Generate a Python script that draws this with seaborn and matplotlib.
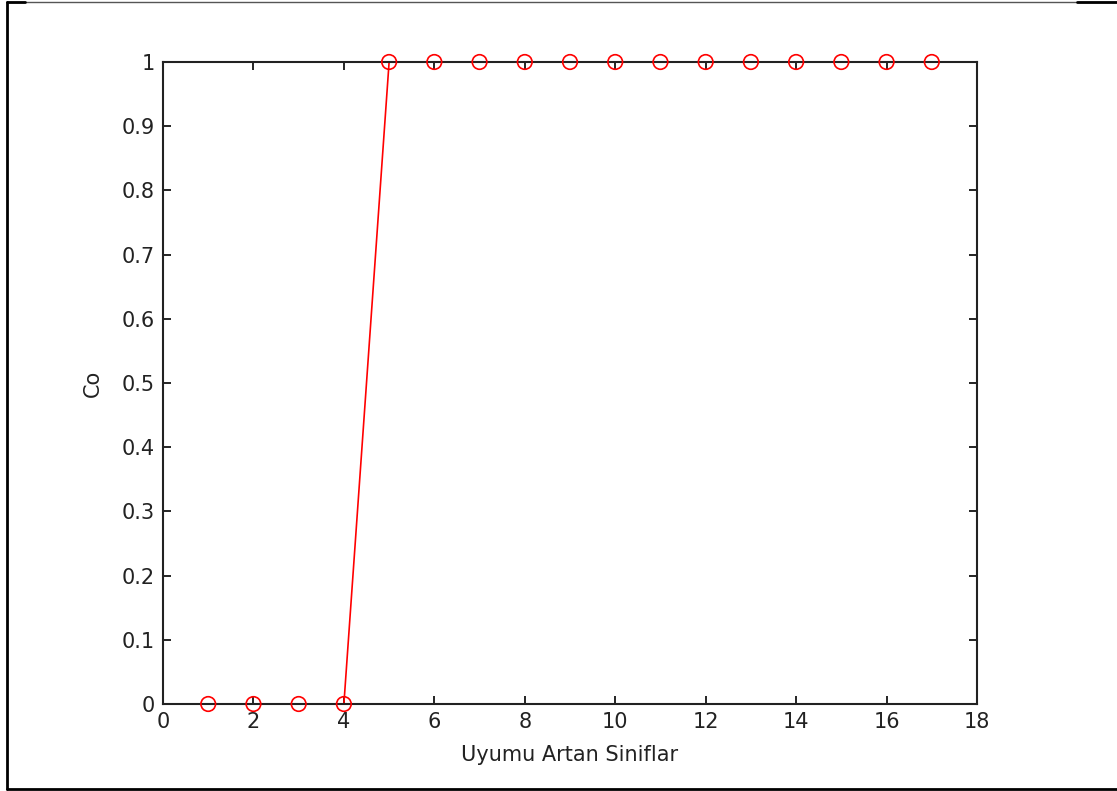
import matplotlib
matplotlib.use("Agg")
import matplotlib.pyplot as plt
from matplotlib.lines import Line2D
import seaborn as sns
import pandas as pd

# Data
siniflar = list(range(1, 18))
co = [0, 0, 0, 0, 1, 1, 1, 1, 1, 1, 1, 1, 1, 1, 1, 1, 1]
x_ticks = list(range(0, 19, 2))
y_ticks = [i / 10 for i in range(11)]
y_tick_labels = ["0", "0.1", "0.2", "0.3", "0.4", "0.5", "0.6", "0.7", "0.8", "0.9", "1"]

df = pd.DataFrame({"Uyumu Artan Siniflar": siniflar, "Co": co})

sns.set_style("ticks")
plt.rcParams["font.family"] = ["DejaVu Sans"]
plt.rcParams["xtick.direction"] = "in"
plt.rcParams["ytick.direction"] = "in"

fig = plt.figure(figsize=(11.17, 7.91), dpi=100)
ax = fig.add_axes([163 / 1117, 1 - 704 / 791, (977 - 163) / 1117, (704 - 62) / 791])

sns.lineplot(data=df, x="Uyumu Artan Siniflar", y="Co", color="red", linewidth=1.2,
             ax=ax, zorder=2)
sns.scatterplot(data=df, x="Uyumu Artan Siniflar", y="Co", facecolor="none",
                edgecolor="red", s=110, linewidth=1.2, ax=ax, zorder=4, clip_on=False)

ax.set_xlim(0, 18)
ax.set_ylim(0, 1)
ax.set_xticks(x_ticks)
ax.set_yticks(y_ticks)
ax.set_yticklabels(y_tick_labels)
ax.tick_params(axis="both", which="both", top=True, right=True, length=6,
               width=1.2, labelsize=15, color="black", labelcolor="#222222", pad=6)
for s in ax.spines.values():
    s.set_visible(True)
    s.set_color("#222222")
    s.set_linewidth(1.5)
    s.set_zorder(3)

ax.set_xlabel("Uyumu Artan Siniflar", fontsize=15, color="#222222")
ax.set_ylabel("Co", fontsize=15, color="#222222")
ax.xaxis.set_label_coords(0.5, -(745 - 704) / 642)
ax.yaxis.set_label_coords((103 - 163) / 814, 0.5)

# Outer frame around the figure (left, bottom, top)
fig.add_artist(Line2D([7 / 1117, 7 / 1117], [1 - 789 / 791, 1 - 2 / 791],
                      transform=fig.transFigure, color="black", linewidth=2))
fig.add_artist(Line2D([7 / 1117, 1], [1 - 789 / 791, 1 - 789 / 791],
                      transform=fig.transFigure, color="black", linewidth=2))
fig.add_artist(Line2D([7 / 1117, 1], [1 - 2 / 791, 1 - 2 / 791],
                      transform=fig.transFigure, color="#555555", linewidth=1))
fig.add_artist(Line2D([7 / 1117, 25 / 1117], [1 - 2 / 791, 1 - 2 / 791],
                      transform=fig.transFigure, color="black", linewidth=2))
fig.add_artist(Line2D([1077 / 1117, 1], [1 - 2 / 791, 1 - 2 / 791],
                      transform=fig.transFigure, color="black", linewidth=2))

fig.savefig("out.png", dpi=100)
